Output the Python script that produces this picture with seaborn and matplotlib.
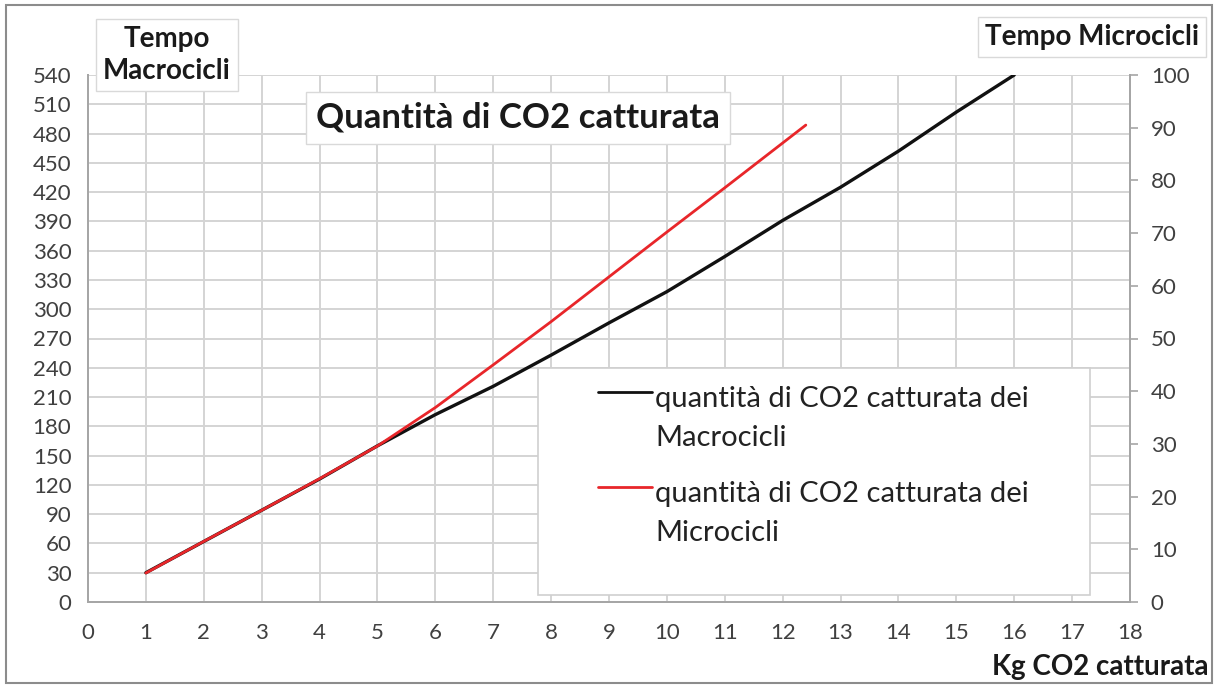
import matplotlib
matplotlib.use("Agg")
import matplotlib.pyplot as plt
from matplotlib.patches import Rectangle
from matplotlib.legend_handler import HandlerLine2D
from matplotlib.lines import Line2D
import numpy as np
import pandas as pd
import seaborn as sns

# data
kg_macro = [1, 2, 3, 4, 5, 6, 7, 8, 9, 10, 11, 12, 13, 14, 15, 16]
tempo_macro = [30, 62, 94, 126, 160, 192, 221, 253, 286, 318, 354, 391, 425, 462, 502, 540]

kg_micro = [1, 2, 3, 4, 5, 6, 7, 8, 9, 10, 11, 12, 12.4]
tempo_micro = [5.5, 11.5, 17.4, 23.4, 29.6, 36.9, 45, 53.2, 61.7, 70.2, 78.6, 87.1, 90.5]

x_ticks = list(range(0, 19))
left_ticks = list(range(0, 541, 30))
right_ticks = list(range(0, 101, 10))

label_macro = "quantità di CO2 catturata dei\nMacrocicli"
label_micro = "quantità di CO2 catturata dei\nMicrocicli"

df_macro = pd.DataFrame({"kg": kg_macro, "tempo": tempo_macro})
df_micro = pd.DataFrame({"kg": kg_micro, "tempo": tempo_micro})

sns.set_theme(style="white")
plt.rcParams["font.family"] = ["Lato", "DejaVu Sans"]

GRID = "#d4d4d4"
SPINE = "#a6a6a6"
TXT = "#404040"
W, H = 1216, 688


class TopAlignedLine(HandlerLine2D):
    """Put the legend line next to the first text line, like Excel does."""

    def create_artists(self, legend, orig_handle, xdescent, ydescent,
                       width, height, fontsize, trans):
        artists = super().create_artists(legend, orig_handle, xdescent, ydescent,
                                         width, height, fontsize, trans)
        for a in artists:
            if isinstance(a, Line2D):
                a.set_ydata(np.asarray(a.get_ydata()) + 0.92 * fontsize)
        return artists


fig = plt.figure(figsize=(W / 100, H / 100), dpi=100)
ax = fig.add_axes([88 / W, 1 - 602 / H, (1130 - 88) / W, (602 - 75) / H])
ax2 = ax.twinx()

sns.lineplot(data=df_macro, x="kg", y="tempo", ax=ax, color="#111111", lw=2.4,
             label=label_macro, legend=False)
sns.lineplot(data=df_micro, x="kg", y="tempo", ax=ax2, color="#e8262a", lw=2.0,
             label=label_micro, legend=False)

ax.set_xlim(0, 18)
ax.set_ylim(0, 540)
ax2.set_ylim(0, 100)
ax.set_xticks(x_ticks)
ax.set_yticks(left_ticks)
ax2.set_yticks(right_ticks)
ax.set_xlabel("")
ax.set_ylabel("")
ax2.set_ylabel("")

ax.grid(True, color=GRID, lw=1.4)
ax.set_axisbelow(True)
ax2.grid(False)

for a in (ax, ax2):
    a.spines["top"].set_visible(False)
    for side in ("left", "right", "bottom"):
        a.spines[side].set_color(SPINE)
        a.spines[side].set_linewidth(1.4)

ax.tick_params(axis="x", length=0, pad=15, labelsize=16, labelcolor=TXT)
ax.tick_params(axis="y", length=0, pad=12, labelsize=16, labelcolor=TXT)
ax2.tick_params(axis="y", length=6, width=1.2, color=SPINE, pad=9,
                labelsize=16, labelcolor=TXT)

# legend: white panel + frameless legend on top of it
fig.patches.append(Rectangle((538 / W, 1 - 595 / H), (1090 - 538) / W, (595 - 368) / H,
                             transform=fig.transFigure, fc="white", ec="#cfcfcf",
                             lw=1.2, zorder=5))
h1, l1 = ax.get_legend_handles_labels()
h2, l2 = ax2.get_legend_handles_labels()
leg = fig.legend(h1 + h2, l1 + l2, loc="upper left",
                 bbox_to_anchor=(598 / W, 1 - 386 / H),
                 frameon=False, fontsize=21, handlelength=1.85,
                 handletextpad=0.12, labelspacing=1.05, borderpad=0,
                 borderaxespad=0,
                 handler_map={Line2D: TopAlignedLine()})
leg.set_zorder(6)
for t in leg.get_texts():
    t.set_color("#222222")
    t.set_linespacing(1.6)
for ln in leg.get_lines():
    ln.set_linewidth(2.0)

box = dict(boxstyle="square,pad=0.25", fc="white", ec="#d9d9d9", lw=1)
fig.text(167 / W, 1 - 55 / H, "Tempo\nMacrocicli", ha="center", va="center",
         fontsize=20, fontweight="bold", color="#1a1a1a", bbox=box, linespacing=1.25)
fig.text(1092 / W, 1 - 37 / H, "Tempo Microcicli", ha="center", va="center",
         fontsize=20, fontweight="bold", color="#1a1a1a", bbox=box)
fig.text(518 / W, 1 - 118 / H, "Quantità di CO2 catturata", ha="center",
         va="center", fontsize=25, fontweight="bold", color="#1a1a1a",
         bbox=dict(boxstyle="square,pad=0.3", fc="white", ec="#d9d9d9", lw=1))
fig.text(1208 / W, 1 - 667 / H, "Kg CO2 catturata", ha="right", va="center",
         fontsize=20, fontweight="bold", color="#1a1a1a")

# outer chart border
fig.patches.append(Rectangle((6 / W, 5 / H), 1 - 10 / W, 1 - 10 / H,
                             transform=fig.transFigure, fill=False,
                             ec="#8c8c8c", lw=1.5))

fig.savefig("out.png", dpi=100)
